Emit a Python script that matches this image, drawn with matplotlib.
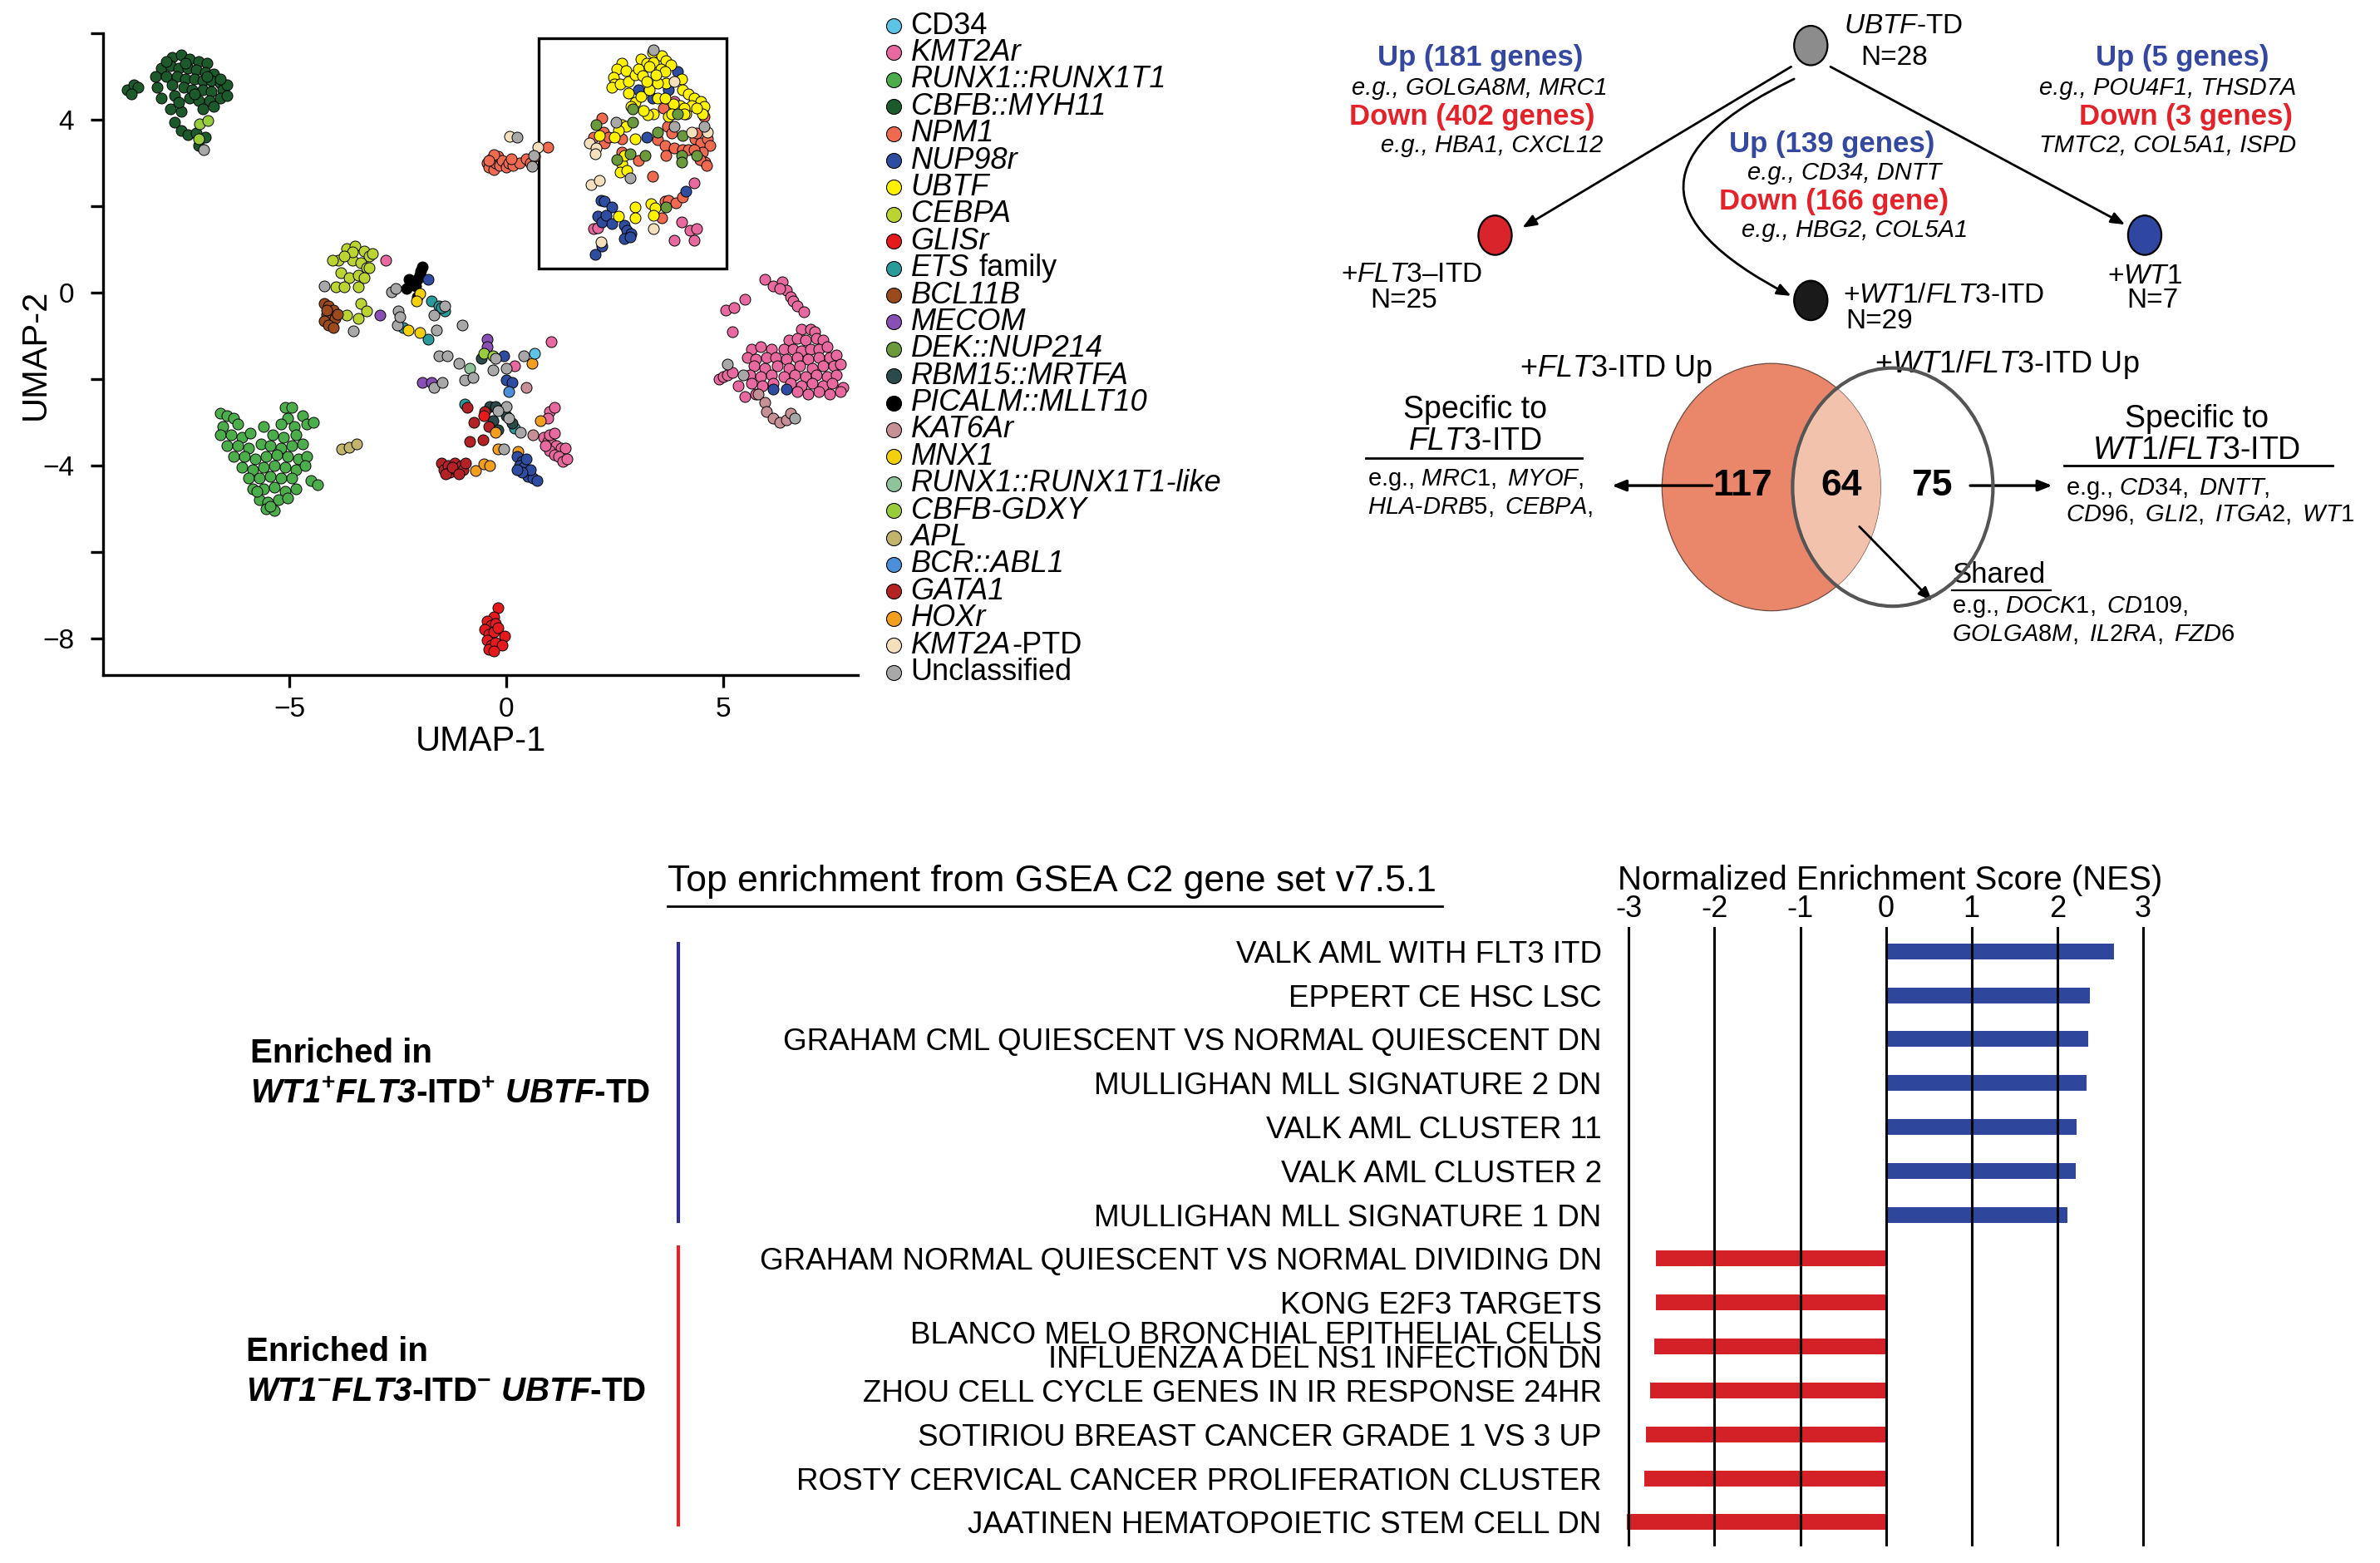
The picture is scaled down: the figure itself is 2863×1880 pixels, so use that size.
import numpy as np
import matplotlib
matplotlib.use("Agg")
import matplotlib.pyplot as plt
from matplotlib import font_manager
from matplotlib.patches import Ellipse, Rectangle

names = {f.name for f in font_manager.fontManager.ttflist}
SANS = "Liberation Sans"
NARROW = "Liberation Sans Narrow" if "Liberation Sans Narrow" in names else "Liberation Sans"

plt.rcParams["font.family"] = SANS
plt.rcParams["mathtext.fontset"] = "custom"
plt.rcParams["mathtext.rm"] = NARROW
plt.rcParams["mathtext.it"] = NARROW + ":italic"
plt.rcParams["mathtext.bf"] = SANS + ":bold"
plt.rcParams["mathtext.bfit"] = SANS + ":italic:bold"

# ---------------- UMAP data ----------------
cd34 = [(0.65, -1.41)]
kmt2ar = [(5.05, -0.4), (5.2, -0.9), (5.5, -0.15), (5.95, 0.3), (6.15, 0.15), (6.35, 0.25), (6.45, 0.05),
          (6.55, -0.1), (6.6, -0.2), (6.7, -0.3), (6.85, -0.45), (6.3, 0.1), (5.25, -0.35),
          (6.8, -0.85), (7.0, -0.85), (7.1, -0.9), (6.5, -1.1), (6.7, -1.05), (6.9, -1.1), (7.15, -1.05), (7.3, -1.1),
          (5.65, -1.3), (5.85, -1.25), (6.1, -1.3), (6.4, -1.3), (6.6, -1.3), (6.8, -1.35), (7.0, -1.3), (7.2, -1.3),
          (7.4, -1.25), (5.55, -1.5), (5.75, -1.55), (6.0, -1.5), (6.2, -1.5), (6.45, -1.55), (6.7, -1.5), (6.95, -1.55),
          (7.2, -1.5), (7.45, -1.5), (7.6, -1.45), (5.7, -1.7), (5.95, -1.75), (6.25, -1.7), (6.5, -1.75), (6.75, -1.7),
          (7.05, -1.75), (7.3, -1.7), (7.55, -1.7), (7.7, -1.65), (5.6, -1.9), (5.85, -1.95), (6.1, -1.9), (6.4, -1.95),
          (6.65, -1.9), (6.9, -1.95), (7.15, -1.9), (7.4, -1.95), (7.6, -1.9), (5.65, -2.1), (5.9, -2.15), (6.15, -2.1),
          (6.55, -2.1), (6.8, -2.15), (7.05, -2.1), (7.3, -2.15), (7.5, -2.1), (7.75, -2.2), (5.5, -2.4), (5.75, -2.35),
          (6.7, -2.3), (6.95, -2.35), (7.2, -2.3), (7.45, -2.35), (7.7, -2.3), (4.9, -2.0), (5.0, -1.95), (5.1, -1.9),
          (5.2, -1.85), (5.35, -2.15),
          (0.85, -3.35), (0.95, -3.45), (1.05, -3.5), (1.15, -3.55), (1.25, -3.6), (1.35, -3.6), (1.0, -3.65),
          (1.1, -3.75), (1.2, -3.8), (1.3, -3.9), (1.4, -3.85), (0.9, -3.55), (1.0, -3.3), (1.1, -3.25), (1.0, -2.75),
          (1.1, -2.65), (0.95, -2.9), (1.03, -1.14), (-2.78, 0.74), (0.19, -1.69),
          (3.87, 4.43), (4.32, 2.53), (2.01, 1.47), (2.10, 1.50), (4.03, 1.63), (3.87, 1.21), (4.23, 1.44),
          (4.39, 1.47), (4.32, 1.21)]
runx1_runx1t1 = [(-5.1, -2.65), (-4.95, -2.65), (-6.6, -2.8), (-6.45, -2.85), (-6.3, -2.9), (-5.05, -2.9), (-4.7, -2.85),
                 (-6.55, -3.1), (-6.2, -3.05), (-5.6, -3.1), (-5.2, -3.05), (-4.9, -3.1), (-4.6, -3.05), (-4.45, -3.0),
                 (-6.6, -3.3), (-6.35, -3.3), (-6.1, -3.35), (-5.4, -3.3), (-5.15, -3.35), (-4.85, -3.3),
                 (-6.45, -3.55), (-6.2, -3.55), (-5.95, -3.6), (-5.65, -3.5), (-5.45, -3.55), (-5.2, -3.6),
                 (-4.95, -3.55), (-4.7, -3.5), (-6.3, -3.8), (-6.05, -3.8), (-5.8, -3.85), (-5.55, -3.8), (-5.3, -3.75),
                 (-5.05, -3.8), (-4.8, -3.85), (-4.6, -3.8), (-6.1, -4.05), (-5.85, -4.1), (-5.6, -4.05), (-5.35, -4.0),
                 (-5.1, -4.05), (-4.85, -4.1), (-4.65, -4.0), (-5.95, -4.3), (-5.7, -4.3), (-5.45, -4.25), (-5.2, -4.3),
                 (-4.95, -4.3), (-4.5, -4.35), (-4.35, -4.45), (-5.85, -4.55), (-5.6, -4.55), (-5.35, -4.5),
                 (-5.1, -4.6), (-4.85, -4.55), (-5.7, -4.8), (-5.5, -4.85), (-5.25, -4.8), (-5.05, -4.75),
                 (-5.55, -5.0), (-5.35, -5.05), (-5.45, -4.95), (-5.9, -3.25), (-5.75, -4.6)]
cbfb_myh11 = [(-8.75, 4.7), (-8.6, 4.8), (-8.5, 4.75), (-8.65, 4.6), (-7.7, 5.45), (-7.5, 5.5), (-7.3, 5.4), (-7.1, 5.35),
              (-6.9, 5.3), (-7.95, 5.2), (-7.75, 5.25), (-7.55, 5.2), (-7.35, 5.2), (-7.15, 5.15), (-6.95, 5.1),
              (-6.75, 5.05), (-8.1, 5.0), (-7.85, 5.0), (-7.6, 5.0), (-7.4, 4.95), (-7.2, 4.95), (-7.0, 4.9), (-6.8, 4.9),
              (-6.6, 4.85), (-8.05, 4.75), (-7.7, 4.8), (-7.45, 4.75), (-7.25, 4.7), (-7.0, 4.7), (-6.8, 4.65),
              (-6.55, 4.7), (-6.45, 4.8), (-7.95, 4.5), (-7.65, 4.55), (-7.3, 4.5), (-7.1, 4.45), (-6.85, 4.45),
              (-6.6, 4.5), (-6.45, 4.55), (-7.75, 4.25), (-7.5, 4.2), (-7.0, 4.25), (-6.75, 4.3), (-7.65, 3.95),
              (-7.5, 3.75), (-7.35, 3.65), (-7.15, 3.7), (-7.1, 3.4), (-6.95, 3.6), (-7.85, 5.35), (-7.4, 5.3),
              (-6.6, 4.95), (-7.2, 4.6), (-7.55, 4.4), (-6.9, 5.0)]
npm1 = [(-0.45, 3.0), (-0.4, 2.9), (-0.35, 3.1), (-0.3, 2.85), (-0.25, 3.0), (-0.2, 3.15), (-0.15, 2.95), (-0.1, 3.05),
        (0.0, 2.9), (0.05, 3.0), (0.15, 2.95), (0.3, 3.0), (0.45, 3.1), (0.55, 3.0), (0.65, 3.15), (0.95, 3.36),
        (-0.3, 3.2), (-0.4, 3.05), (0.1, 3.1),
        (2.19, 4.04), (2.01, 3.59), (2.23, 3.72), (2.26, 3.47), (2.36, 3.59), (2.65, 3.56), (2.65, 3.24), (3.04, 3.05),
        (3.36, 2.69), (3.61, 4.27), (3.71, 3.85), (3.81, 3.69), (3.49, 3.53), (3.65, 3.40), (3.68, 3.17), (3.87, 3.34),
        (4.06, 3.30), (4.19, 3.30), (4.35, 3.56), (4.48, 3.46), (4.64, 3.56), (4.68, 3.40), (4.52, 3.24), (4.58, 3.01),
        (4.45, 3.08), (4.32, 3.30), (4.39, 3.69), (4.51, 4.21), (4.55, 4.08), (4.62, 2.95), (3.58, 1.73), (3.65, 2.11),
        (3.74, 2.14), (3.90, 2.08), (4.06, 2.21)]
nup98r = [(3.94, 5.11), (3.04, 4.69), (3.74, 4.69), (3.36, 4.49), (4.35, 4.46), (3.23, 3.59), (4.13, 2.34),
          (2.17, 2.14), (2.26, 2.11), (2.43, 1.98), (2.10, 1.76), (2.20, 1.63), (2.30, 1.79), (2.43, 1.60), (2.71, 1.56),
          (2.78, 1.44), (2.87, 1.37), (2.71, 1.24), (2.84, 1.28), (2.20, 1.08), (2.04, 0.89),
          (0.25, -3.8), (0.35, -3.9), (0.3, -4.0), (0.4, -4.05), (0.45, -4.15), (0.5, -4.25), (0.6, -4.3), (0.7, -4.35),
          (0.55, -4.1), (0.35, -4.15), (0.45, -3.85), (0.25, -4.1), (-1.81, 0.3), (-0.06, -1.47), (0.0, -2.02),
          (0.13, -2.08), (6.14, -2.24), (6.46, -2.24)]
ubtf = [(3.36, 5.56), (3.10, 5.40), (3.23, 5.30), (3.39, 5.33), (3.58, 5.49), (3.68, 5.36), (3.78, 5.27), (2.65, 5.30),
        (2.55, 5.17), (2.75, 5.14), (2.46, 4.98), (2.49, 4.82), (2.42, 4.75), (2.62, 4.82), (2.81, 4.88), (2.81, 4.62),
        (2.97, 5.04), (3.04, 5.17), (3.13, 5.01), (3.29, 5.24), (3.55, 5.17), (3.65, 5.11), (4.03, 4.95), (4.06, 4.69),
        (4.19, 4.59), (4.32, 4.49), (4.48, 4.43), (4.55, 4.30), (4.51, 4.14), (4.26, 4.33), (4.13, 4.14), (4.00, 4.33),
        (3.84, 4.37), (3.74, 4.08), (3.49, 4.49), (3.39, 4.14), (3.26, 4.11), (3.16, 4.21), (2.97, 4.40), (2.87, 4.30),
        (3.10, 4.53), (3.68, 4.85), (3.49, 4.85), (3.29, 4.69), (3.65, 4.49), (3.45, 5.04), (3.23, 4.88), (3.81, 4.14),
        (4.10, 4.27), (4.39, 4.27), (2.65, 3.88), (2.75, 3.85), (2.59, 3.75), (2.49, 3.59), (2.97, 3.56), (2.65, 2.98),
        (2.62, 2.79), (2.78, 2.82), (2.71, 3.17), (2.14, 3.63), (2.97, 1.98), (2.97, 1.73), (2.59, 1.76), (3.33, 2.05),
        (3.42, 1.96), (3.39, 1.79), (4.10, 4.14)]
cebpa = [(-3.88, 0.74), (-3.68, 1.02), (-3.49, 1.07), (-3.29, 0.96), (-3.17, 0.85), (-3.55, 0.74), (-3.36, 0.69),
         (-3.81, 0.46), (-3.94, 0.13), (-3.62, 0.35), (-3.42, 0.41), (-3.23, 0.57), (-3.10, 0.91), (-3.75, 0.13),
         (-3.42, 0.13), (-3.29, 0.35), (-3.36, -0.25), (-3.23, -0.42), (-3.68, -0.53), (-3.42, -0.59), (-3.17, 0.57),
         (-4.01, 0.74), (-3.55, 0.95), (-3.75, 0.85)]
glisr = [(-0.2, -7.3), (-0.3, -7.5), (-0.45, -7.6), (-0.35, -7.7), (-0.25, -7.65), (-0.5, -7.8), (-0.4, -7.9),
         (-0.3, -7.85), (-0.2, -7.75), (-0.45, -8.05), (-0.35, -8.15), (-0.4, -8.25), (-0.25, -8.1), (-0.05, -7.95),
         (-0.1, -8.15), (-0.3, -8.3), (-0.52, -2.85)]
ets = [(-1.74, -0.2), (-1.55, -0.31), (-1.42, -0.42), (-2.39, -0.81), (-1.81, -1.08), (-0.97, -2.57), (0.19, -3.13),
       (-1.5, -0.35)]
bcl11b = [(-4.2, -0.25), (-4.1, -0.3), (-4.0, -0.4), (-4.15, -0.5), (-4.05, -0.55), (-3.95, -0.6), (-4.2, -0.65),
          (-4.1, -0.75), (-4.0, -0.8), (-3.9, -0.5), (-4.15, -0.4)]
mecom = [(-2.91, -0.53), (-1.94, -2.08), (-1.74, -2.08), (-0.45, -1.08), (-0.45, -1.25)]
dek_nup214 = [(2.91, 4.24), (2.07, 3.88), (2.91, 3.95), (2.55, 3.08), (2.84, 3.21), (3.20, 3.17), (3.49, 3.72),
              (4.06, 3.63), (4.03, 3.17), (4.03, 3.01), (4.39, 3.17), (3.94, 4.14), (3.68, 1.98)]
rbm15_mrtfa = [(-0.39, -2.63), (-0.26, -2.63), (0.0, -2.85), (0.13, -3.02), (-0.58, -1.52), (-0.32, -2.96),
               (-0.19, -3.18)]
picalm_mllt10 = [(-1.95, 0.6), (-1.98, 0.5), (-2.0, 0.4), (-2.05, 0.3), (-2.25, 0.3), (-2.3, 0.1), (-2.1, 0.15),
                 (-2.05, -0.1)]
kat6ar = [(5.8, -2.35), (5.95, -2.55), (6.0, -2.75), (6.15, -2.9), (6.3, -3.0), (6.45, -2.95), (6.55, -2.8),
          (0.6, -3.3), (0.45, -2.2)]
mnx1 = [(-2.0, -0.03), (-2.07, -0.2), (-2.26, -0.86), (-2.0, -0.92)]
runx1_like = [(-0.85, -1.75)]
cbfb_gdxy = [(-7.07, 3.91), (-6.89, 3.98), (-7.1, 3.56), (-0.52, -1.41), (-0.32, -1.47)]
apl = [(-3.8, -3.62), (-3.62, -3.57), (-3.45, -3.5)]
bcr_abl1 = [(0.05, -2.3)]
gata1 = [(-1.5, -3.95), (-1.45, -4.1), (-1.35, -4.0), (-1.3, -4.15), (-1.2, -3.95), (-1.15, -4.1), (-1.05, -4.0),
         (-1.0, -4.1), (-1.4, -4.2), (-1.25, -4.05), (-1.1, -4.2), (-0.95, -3.95), (-0.4, -3.1), (-0.55, -3.4),
         (-0.85, -3.45), (-0.75, -3.0), (-0.5, -2.75), (-0.9, -2.65)]
hoxr = [(-0.71, -4.12), (-0.52, -3.96), (-0.39, -4.01), (-0.19, -3.62), (-0.26, -3.24), (0.26, -3.68), (0.58, -1.64),
        (0.78, -2.96)]
kmt2a_ptd = [(3.87, 4.88), (4.64, 3.72), (4.26, 3.72), (1.91, 3.46), (2.07, 3.34), (2.04, 3.21), (1.94, 2.50),
             (2.14, 2.60), (3.39, 1.47), (2.17, 1.18), (0.08, 3.61), (0.72, 3.37)]
unclassified = [(3.39, 5.62), (2.52, 3.95), (3.87, 3.85), (4.55, 3.85), (2.84, 2.66), (0.24, 3.59), (0.62, 3.18),
                (0.59, 2.92), (-6.98, 3.31), (-4.2, 0.15), (-3.53, -0.88), (-2.65, 0.02), (-2.55, 0.1), (-2.49, -0.42),
                (-2.52, -0.75), (-2.45, -0.55), (-1.68, -0.53), (-1.62, -0.86), (-1.03, -0.75), (-1.55, -1.47),
                (-1.36, -1.47), (-1.10, -1.64), (-1.68, -2.19), (-1.49, -2.08), (-0.97, -2.02), (-0.78, -1.97),
                (-0.32, -1.80), (-0.26, -1.52), (0.0, -1.75), (0.39, -1.47), (0.0, -2.63), (0.06, -2.91),
                (-0.06, -3.62), (0.32, -3.24), (-0.19, -2.74), (-1.42, -0.31), (5.1, -1.65), (5.45, -1.9),
                (6.65, -2.9)]

legend_labels = ["CD34", "KMT2Ar", "RUNX1::RUNX1T1", "CBFB::MYH11", "NPM1", "NUP98r", "UBTF", "CEBPA", "GLISr",
                 "ETS family", "BCL11B", "MECOM", "DEK::NUP214", "RBM15::MRTFA", "PICALM::MLLT10", "KAT6Ar", "MNX1",
                 "RUNX1::RUNX1T1-like", "CBFB-GDXY", "APL", "BCR::ABL1", "GATA1", "HOXr", "KMT2A-PTD",
                 "Unclassified"]
legend_points = [cd34, kmt2ar, runx1_runx1t1, cbfb_myh11, npm1, nup98r, ubtf, cebpa, glisr, ets, bcl11b, mecom,
                 dek_nup214, rbm15_mrtfa, picalm_mllt10, kat6ar, mnx1, runx1_like, cbfb_gdxy, apl, bcr_abl1, gata1,
                 hoxr, kmt2a_ptd, unclassified]
legend_colors = ["#5ec4e6", "#e8699f", "#4cae4a", "#1c5a2c", "#ef6a4e", "#2f4da0", "#fff200", "#bcd432", "#e41a1c",
                 "#2a9b9b", "#9a4a1d", "#8a4fb5", "#6b9a3c", "#2b4b4b", "#000000", "#c79096", "#f2d10c", "#8fc49a",
                 "#98cc3c", "#c2b46c", "#4a8fd8", "#b42226", "#f29e1e", "#f5e0bd", "#a8a8a8"]
draw_order = [2, 3, 1, 4, 7, 10, 14, 9, 11, 13, 21, 22, 8, 5, 6, 12, 15, 16, 17, 18, 19, 20, 0, 23, 24]

# ---------------- diagram data ----------------
group_n = [28, 25, 29, 7]
up_counts = [181, 139, 5]
down_labels = ["Down (402 genes)", "Down (166 gene)", "Down (3 genes)"]
venn_counts = [117, 64, 75]

# ---------------- GSEA data ----------------
gsea_labels = ["VALK AML WITH FLT3 ITD", "EPPERT CE HSC LSC", "GRAHAM CML QUIESCENT VS NORMAL QUIESCENT DN",
               "MULLIGHAN MLL SIGNATURE 2 DN", "VALK AML CLUSTER 11", "VALK AML CLUSTER 2",
               "MULLIGHAN MLL SIGNATURE 1 DN", "GRAHAM NORMAL QUIESCENT VS NORMAL DIVIDING DN", "KONG E2F3 TARGETS",
               "BLANCO MELO BRONCHIAL EPITHELIAL CELLS\nINFLUENZA A DEL NS1 INFECTION DN",
               "ZHOU CELL CYCLE GENES IN IR RESPONSE 24HR", "SOTIRIOU BREAST CANCER GRADE 1 VS 3 UP",
               "ROSTY CERVICAL CANCER PROLIFERATION CLUSTER", "JAATINEN HEMATOPOIETIC STEM CELL DN"]
gsea_nes = [2.66, 2.38, 2.36, 2.34, 2.22, 2.21, 2.12, -2.68, -2.68, -2.70, -2.75, -2.80, -2.82, -3.02]

BLUE = "#2e479c"
RED = "#d42027"
DBLUE = "#3548a0"
DRED = "#e3222a"

W, H = 2863, 1880
SX, SY = 1568, 1030  # overlay units
fig = plt.figure(figsize=(W / 100, H / 100), dpi=100)
ov = fig.add_axes([0, 0, 1, 1])
ov.set_xlim(0, SX)
ov.set_ylim(SY, 0)
ov.axis("off")
renderer = fig.canvas.get_renderer()
PX = W / SX

# ---------------- UMAP ----------------
ax = fig.add_axes([124 / W, 1 - 812 / H, 908 / W, 772 / H])
ax.patch.set_visible(False)
for i in draw_order:
    p = np.array(legend_points[i])
    ax.scatter(p[:, 0], p[:, 1], s=88, c=legend_colors[i], edgecolors="black", linewidths=0.7, zorder=3)
ax.add_patch(Rectangle((0.74, 0.55), 4.34, 5.33, fill=False, lw=2.4, ec="black", zorder=2))
ax.set_xlim(-9.3, 8.1)
ax.set_ylim(-8.85, 6.0)
ax.spines[["top", "right"]].set_visible(False)
ax.spines[["left", "bottom"]].set_linewidth(2.4)
ax.set_xticks([-5, 0, 5])
ax.set_xticklabels(["\u22125", "0", "5"])
ax.set_yticks(np.arange(-8, 7, 2))
ax.set_yticklabels(["\u22128", "", "\u22124", "", "0", "", "4", ""])
ax.tick_params(length=11, width=2.4, labelsize=24)
ax.tick_params(axis="y", pad=14)
ax.tick_params(axis="x", pad=8)
ax.set_xlabel("UMAP-1", fontsize=30, labelpad=2)
ax.set_ylabel("UMAP-2", fontsize=30)
ax.yaxis.set_label_coords(-0.068, 0.5)

# legend
for i, (lab, col) in enumerate(zip(legend_labels, legend_colors)):
    y = 17 + i * 17.75
    ov.plot(589, y, "o", ms=13, mfc=col, mec="black", mew=0.8)
    if lab in ("CD34", "Unclassified"):
        parts = [(lab, "normal")]
    elif lab == "ETS family":
        parts = [("ETS", "italic"), (" family", "normal")]
    elif lab == "KMT2A-PTD":
        parts = [("KMT2A", "italic"), ("-PTD", "normal")]
    else:
        parts = [(lab, "italic")]
    x = 600
    for s, st in parts:
        gap = 0
        if s.startswith(" "):
            gap = 0.278 * 26 / 0.72 / PX
            s = s.strip()
        t = ov.text(x + gap, y, s, fontsize=26, style=st, va="center", ha="left")
        x = x + gap + t.get_window_extent(renderer).width / PX + 0.6

# ---------------- diagram ----------------
def tx(x, y, s, size=22, ha="center", **kw):
    kw.setdefault("family", NARROW)
    return ov.text(x, y, s, fontsize=size, ha=ha, va="center", **kw)

def arrow(p0, p1, rad=0.0, lw=2.0):
    ov.annotate("", xy=p1, xytext=p0,
                arrowprops=dict(arrowstyle="-|>,head_length=1.0,head_width=0.4", color="black", lw=lw,
                                shrinkA=0, shrinkB=0, connectionstyle=f"arc3,rad={rad}"))

nodes = [(1193, 30, "#8c8c8c"), (985, 155, "#d9242b"), (1193, 198, "#1a1a1a"), (1413, 155, "#2f47a0")]
for x, y, c in nodes:
    ov.add_patch(Ellipse((x, y), 22, 26, fc=c, ec="black", lw=1.6, zorder=5))

tx(1215, 17, r"$\mathit{UBTF}$-TD", 24, ha="left")
tx(1226, 38, f"N={group_n[0]}", 24, ha="left")
tx(930, 181, "+$\\mathit{FLT3}$\u2013ITD", 24)
tx(925, 198, f"N={group_n[1]}", 24)
tx(1214, 195, r"+$\mathit{WT1/FLT3}$-ITD", 24, ha="left")
tx(1216, 212, f"N={group_n[2]}", 24, ha="left")
tx(1413, 182, r"+$\mathit{WT1}$", 24)
tx(1418, 198, f"N={group_n[3]}", 24)

arrow((1180, 44), (1003, 150))
arrow((1182, 52), (1180, 195), rad=1.0)
arrow((1206, 44), (1400, 148))

tx(975, 38, f"Up ({up_counts[0]} genes)", 25, color=DBLUE, weight="bold")
tx(975, 58, "e.g., GOLGA8M, MRC1", 21, style="italic")
tx(970, 77, down_labels[0], 25, color=DRED, weight="bold")
tx(983, 96, "e.g., HBA1, CXCL12", 21, style="italic")

tx(1207, 95, f"Up ({up_counts[1]} genes)", 25, color=DBLUE, weight="bold")
tx(1215, 114, "e.g., CD34, DNTT", 21, style="italic")
tx(1208, 133, down_labels[1], 25, color=DRED, weight="bold")
tx(1222, 152, "e.g., HBG2, COL5A1", 21, style="italic")

tx(1438, 38, f"Up ({up_counts[2]} genes)", 25, color=DBLUE, weight="bold")
tx(1428, 58, "e.g., POU4F1, THSD7A", 21, style="italic")
tx(1440, 77, down_labels[2], 25, color=DRED, weight="bold")
tx(1428, 96, "TMTC2, COL5A1, ISPD", 21, style="italic")

# venn
e1 = Ellipse((1167, 321), 144, 163, fc="#ea876b", ec="#6b4a3f", lw=0.9, zorder=2)
ov.add_patch(e1)
e_int = Ellipse((1247, 321), 132, 157, fc="#f3c2ac", ec="none", zorder=3)
ov.add_patch(e_int)
e_int.set_clip_path(e1)
ov.add_patch(Ellipse((1247, 321), 132, 157, fc="none", ec="#555555", lw=3.0, zorder=4))
for x, v in zip([1148, 1213, 1273], venn_counts):
    tx(x, 320, str(v), 32, weight="bold", zorder=6)

tx(1065, 243, r"+$\mathit{FLT3}$-ITD Up", 26)
tx(1322, 240, r"+$\mathit{WT1/FLT3}$-ITD Up", 26)

arrow((1128, 320), (1062, 320), lw=2.4)
arrow((1298, 320), (1352, 320), lw=2.4)
arrow((1225, 347), (1273, 396), lw=2.0)

tx(972, 270, "Specific to", 27)
tx(972, 291, r"$\mathit{FLT3}$-ITD", 27)
ov.plot([900, 1042], [302, 302], color="black", lw=2)
tx(901, 316, r"e.g., $\mathit{MRC1,\ MYOF,}$", 21, ha="left")
tx(901, 334, r"$\mathit{HLA}$-$\mathit{DRB5,\ CEBPA,}$", 21, ha="left")

tx(1447, 276, "Specific to", 27)
tx(1447, 297, r"$\mathit{WT1/FLT3}$-ITD", 27)
ov.plot([1360, 1537], [307, 307], color="black", lw=2)
tx(1361, 322, r"e.g., $\mathit{CD34,\ DNTT,}$", 21, ha="left")
tx(1361, 339, r"$\mathit{CD96,\ GLI2,\ ITGA2,\ WT1}$", 21, ha="left")

tx(1286, 379, "Shared", 25, ha="left")
ov.plot([1286, 1351], [389, 389], color="black", lw=1.6)
tx(1286, 400, r"e.g., $\mathit{DOCK1,\ CD109,}$", 21, ha="left")
tx(1286, 418, r"$\mathit{GOLGA8M,\ IL2RA,\ FZD6}$", 21, ha="left")

# ---------------- GSEA bars ----------------
axb = fig.add_axes([1067.4 / SX, 1 - 1019 / SY, 350.2 / SX, 408 / SY])
axb.patch.set_visible(False)
ypos = np.arange(len(gsea_nes))
cols = [BLUE if v > 0 else RED for v in gsea_nes]
axb.barh(ypos, gsea_nes, height=0.36, color=cols, zorder=2)
for v in range(-3, 4):
    axb.axvline(v, color="black", lw=2.2, zorder=3)
axb.set_xlim(-3.1, 3.1)
axb.set_ylim(len(gsea_nes) - 0.45, -0.55)
axb.xaxis.tick_top()
axb.set_xticks(range(-3, 4))
axb.set_xticklabels([str(v) for v in range(-3, 4)], family=NARROW)
axb.tick_params(axis="x", length=0, labelsize=26, pad=3)
axb.set_yticks(ypos)
axb.set_yticklabels(gsea_labels, fontsize=26.5)
axb.tick_params(axis="y", length=0, pad=16)
for t in axb.get_yticklabels():
    t.set_linespacing(0.8)
for sp in axb.spines.values():
    sp.set_visible(False)

tx(1245, 580, "Normalized Enrichment Score (NES)", 29)
tx(440, 581, "Top enrichment from GSEA C2 gene set v7.5.1", 32, ha="left")
ov.plot([440, 950], [597, 597], color="black", lw=2)

ov.plot([447, 447], [622, 805], color="#2e2f8f", lw=3)
ov.plot([447, 447], [822, 1005], color="#e0262b", lw=3)
tx(165, 694, "Enriched in", 29, ha="left", family=SANS, weight="bold")
tx(165, 721, r"$\mathbfit{WT1}^{\mathbf{+}}\mathbfit{FLT3}$-ITD$^{\mathbf{+}}$ $\mathbfit{UBTF}$-TD", 29,
   ha="left", family=SANS, weight="bold")
tx(162, 891, "Enriched in", 29, ha="left", family=SANS, weight="bold")
tx(162, 917, r"$\mathbfit{WT1}^{\mathbf{-}}\mathbfit{FLT3}$-ITD$^{\mathbf{-}}$ $\mathbfit{UBTF}$-TD", 29,
   ha="left", family=SANS, weight="bold")

fig.savefig("out.png", dpi=100)
